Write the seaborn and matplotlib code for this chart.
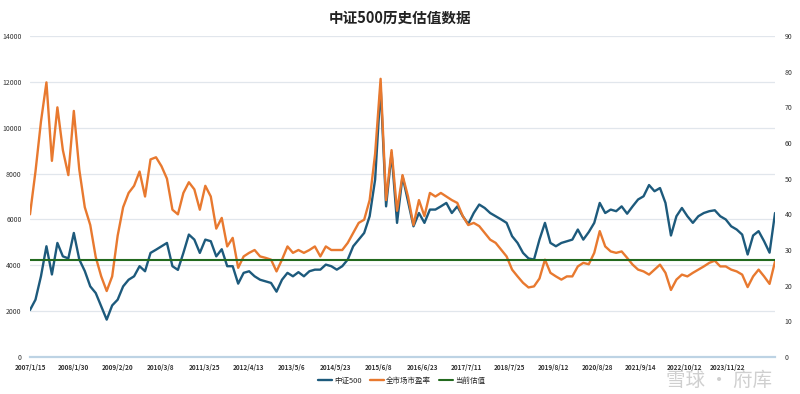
import numpy as np
import pandas as pd
import matplotlib
matplotlib.use("Agg")
import matplotlib.pyplot as plt
import seaborn as sns

# ---------------- data ----------------
tick_labels = ["2007/1/15", "2008/1/30", "2009/2/20", "2010/3/8", "2011/3/25",
               "2012/4/13", "2013/5/6", "2014/5/23", "2015/6/8", "2016/6/23",
               "2017/7/11", "2018/7/25", "2019/8/12", "2020/8/28", "2021/9/14",
               "2022/10/12", "2023/11/22"]

# 中证500 index level (left axis), sampled every ~1/8 label step
csi500 = [2050, 2500, 3520, 4830, 3600, 4975, 4390, 4300, 5410, 4250,
          3750, 3080, 2790, 2210, 1630, 2250, 2500, 3080, 3370, 3520,
          3960, 3740, 4540, 4680, 4830, 4975, 3960, 3800, 4540, 5340,
          5120, 4540, 5120, 5050, 4390,
          4700, 3960, 3960, 3200, 3670, 3740, 3520, 3370, 3300, 3230,
          2850, 3370, 3670, 3520, 3700, 3520, 3740, 3810, 3810, 4030,
          3960, 3810, 3960, 4250, 4830, 5120, 5410, 6140, 7740, 11800,
          6570, 8900, 5850, 7880,
          6800, 5700, 6280, 5850, 6430, 6430, 6570, 6720, 6280, 6570,
          6140, 5800, 6280, 6650, 6500, 6280, 6140, 6000, 5850, 5270,
          4975, 4540, 4300, 4250, 5120, 5850, 4975, 4830, 4975, 5050,
          5120, 5560, 5120, 5450,
          5850, 6720, 6280, 6430, 6360, 6570, 6250, 6570, 6870, 7010,
          7500, 7230, 7370, 6720, 5300, 6140, 6500, 6140, 5850, 6140,
          6280, 6360, 6400, 6140, 6000, 5700, 5560, 5340, 4470, 5300,
          5490, 5050, 4550, 6280]

# 全市场市盈率 (right axis)
pe = [40, 52, 66, 77, 55, 70, 58, 51, 69, 52.5,
      42, 37, 28, 22.6, 18.5, 22.6, 34, 42, 46, 48,
      52, 45, 55.4, 56, 53.5, 50, 41.3, 40, 46, 49,
      47, 41.3, 48, 45, 36,
      39, 31, 33.4, 25, 28.2, 29.2, 30, 28.2, 27.8, 27.3,
      24, 27.3, 31, 29.2, 30, 29.2, 30, 31, 28.2, 31,
      30, 30, 30, 32, 34.8, 37.6, 38.5, 44, 57, 78,
      44, 58, 41, 51,
      45, 37, 44, 39.5, 46, 45, 46, 45, 44, 43.2,
      39.5, 37, 37.6, 36.7, 34.8, 32.9, 32, 30.1, 28.2, 24.5,
      22.6, 20.8, 19.5, 19.8, 22, 27.3, 23.6, 22.6, 21.7, 22.6,
      22.6, 25.4, 26.4, 26,
      29.2, 35.3, 31, 29.6, 29.2, 29.6, 27.8, 25.9, 24.5, 24,
      23.1, 24.5, 25.9, 23.6, 18.8, 21.7, 23.1, 22.6, 23.6, 24.5,
      25.4, 26.4, 27, 25.4, 25.4, 24.5, 24, 23.1, 19.6, 22.6,
      24.5, 22.6, 20.5, 26.8]

current_pe = 27.2  # 当前估值

left_ticks = [0, 2000, 4000, 6000, 8000, 10000, 12000, 14000]
right_ticks = [0, 10, 20, 30, 40, 50, 60, 70, 80, 90]

# ---------------- build table ----------------
n = min(len(csi500), len(pe))
span = 17.08  # data span measured in label steps
x = np.linspace(0, span, n)
df = pd.DataFrame({"x": x, "csi500": csi500[:n], "pe": pe[:n],
                   "cur": [current_pe] * n})

# ---------------- style ----------------
sns.set_theme(style="white")
plt.rcParams["font.family"] = ["Noto Sans CJK SC", "DejaVu Sans"]
plt.rcParams["axes.unicode_minus"] = False

blue = "#1d5a7c"
orange = "#e8792f"
green = "#236a1f"
grid_c = "#e1e6ec"
tick_c = "#333333"

fig = plt.figure(figsize=(8, 3.94), dpi=100)
fig.patch.set_facecolor("white")
ax = fig.add_axes([0.0375, 0.0939, 0.9313, 0.8147])
ax2 = ax.twinx()

sns.lineplot(data=df, x="x", y="csi500", ax=ax, color=blue, linewidth=1.7,
             label="中证500", legend=False)
sns.lineplot(data=df, x="x", y="pe", ax=ax2, color=orange, linewidth=1.7,
             label="全市场市盈率", legend=False)
sns.lineplot(data=df, x="x", y="cur", ax=ax2, color=green, linewidth=1.5,
             label="当前估值", legend=False)

ax.set_xlim(0, span)
ax.set_ylim(0, 14000)
ax2.set_ylim(0, 90)
ax.set_yticks(left_ticks)
ax2.set_yticks(right_ticks)
ax.set_xticks(np.arange(len(tick_labels)))
ax.set_xticklabels(tick_labels)
ax.set_xlabel("")
ax.set_ylabel("")
ax2.set_ylabel("")

ax.yaxis.grid(True, color=grid_c, linewidth=0.9)
ax.xaxis.grid(False)
ax.set_axisbelow(True)
for a in (ax, ax2):
    for s in ("top", "left", "right", "bottom"):
        a.spines[s].set_visible(False)
ax.spines["bottom"].set_visible(True)
ax.spines["bottom"].set_color("#bdd3e4")
ax.spines["bottom"].set_linewidth(1.6)

ax.tick_params(axis="both", length=0, labelsize=5, colors=tick_c)
ax.tick_params(axis="x", pad=5, labelsize=4.6)
ax.tick_params(axis="y", pad=6)
ax2.tick_params(axis="y", length=0, labelsize=5, colors=tick_c, pad=7)
for lab in ax.get_xticklabels():
    lab.set_fontweight("bold")

# legend
h1, l1 = ax.get_legend_handles_labels()
h2, l2 = ax2.get_legend_handles_labels()
fig.legend(h1 + h2, l1 + l2, loc="center", bbox_to_anchor=(0.502, 0.033),
           ncol=3, frameon=False, fontsize=5.4, handlelength=1.8,
           columnspacing=1.1, handletextpad=0.3)

fig.text(0.5, 0.955, "中证500历史估值数据", ha="center", va="center",
         fontsize=10.5, fontweight="bold", color="#222222")

# watermark
fig.text(0.965, 0.035, "雪球 · 府库", ha="right", va="center", fontsize=14,
         color="#c4c4c4", alpha=0.8)

fig.savefig("out.png", dpi=100, facecolor="white")
